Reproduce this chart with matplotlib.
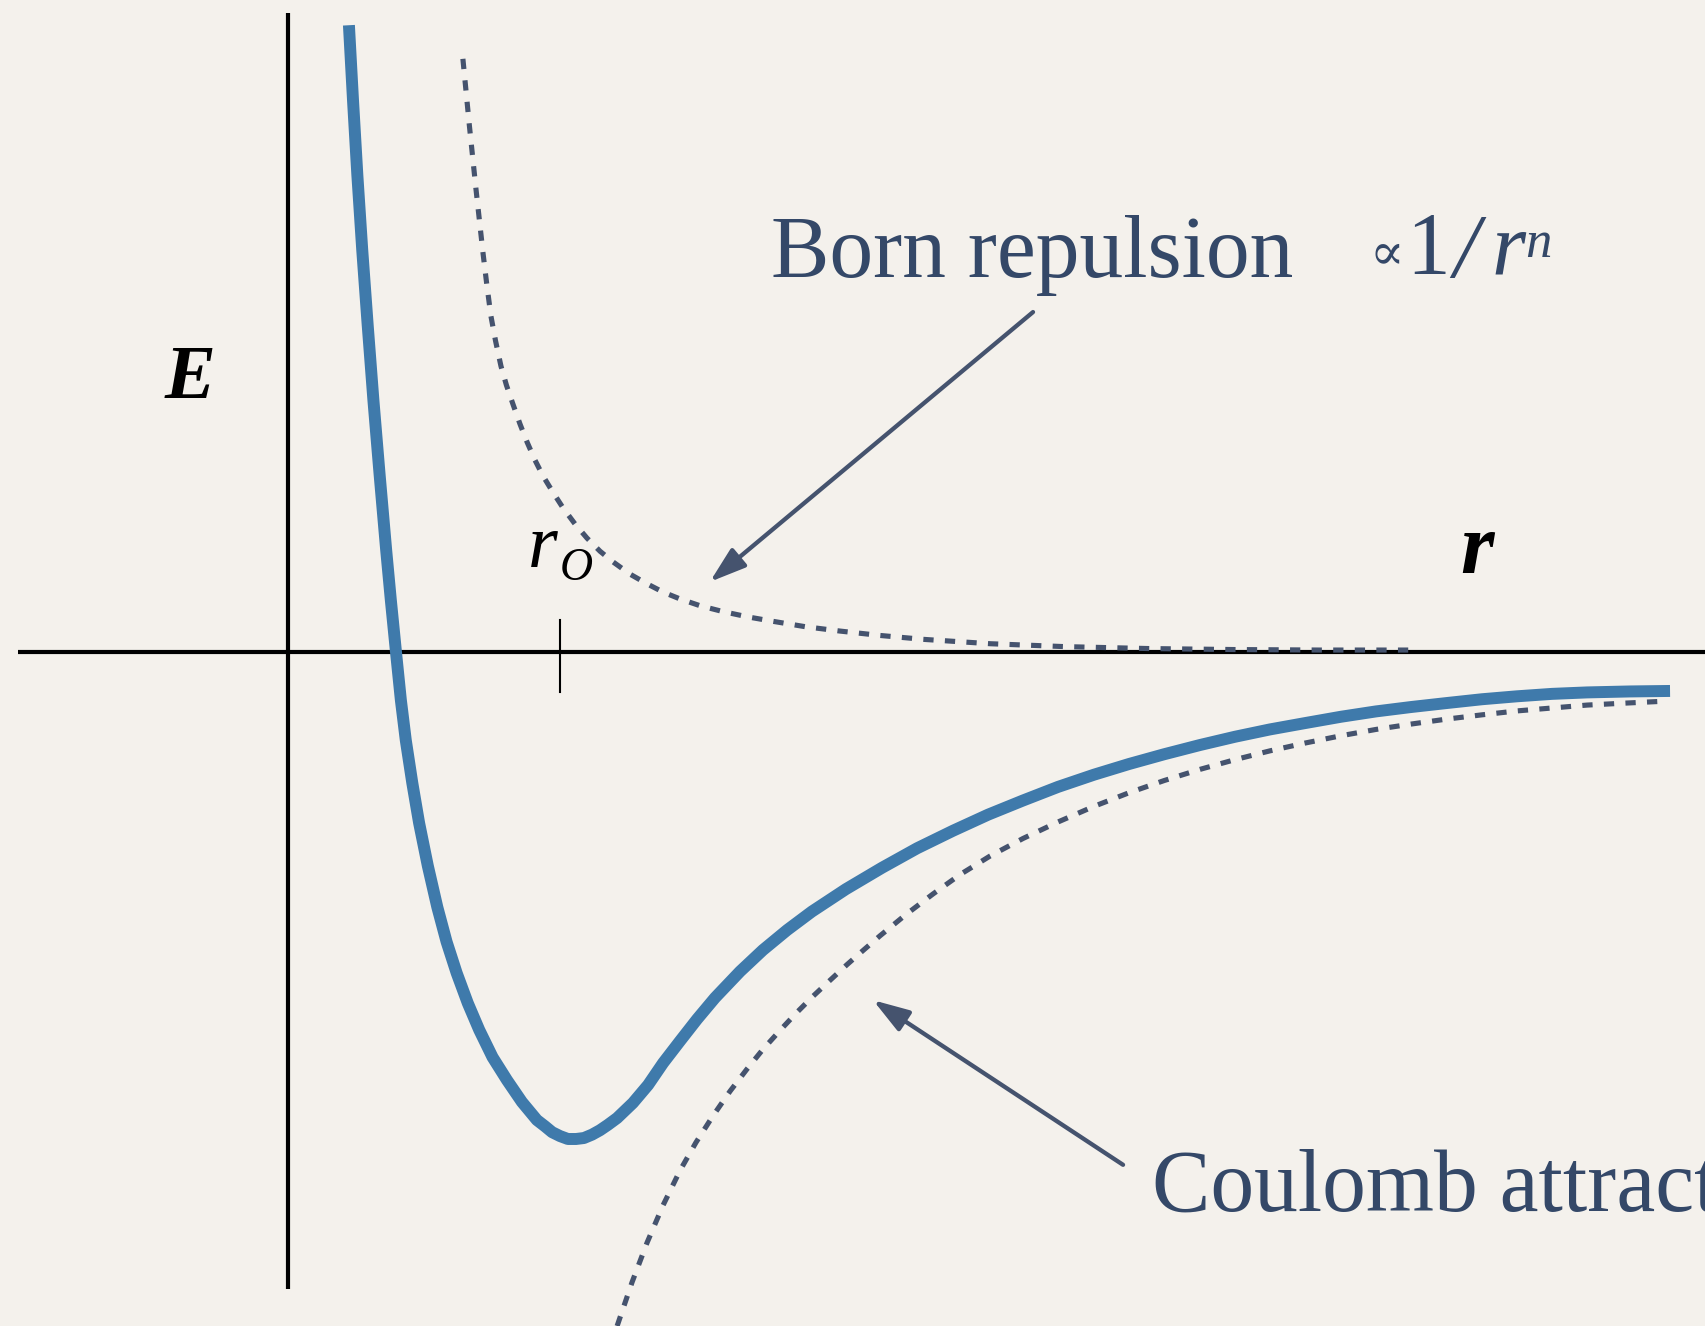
import matplotlib
matplotlib.use("Agg")
import matplotlib.pyplot as plt

# ---- data (r in units of r0, E in units of the well depth) ----
total_r = [0.224, 0.239, 0.255, 0.273, 0.293, 0.314, 0.337, 0.361, 0.378, 0.397,
           0.415, 0.433, 0.457, 0.482, 0.514, 0.549, 0.583, 0.620, 0.661, 0.703,
           0.752, 0.805, 0.860, 0.915, 0.945, 0.971, 1.000, 1.029, 1.059, 1.088,
           1.118, 1.147, 1.176, 1.210, 1.268, 1.324, 1.379, 1.441, 1.504, 1.570,
           1.662, 1.746, 1.835, 1.926, 2.051, 2.184, 2.313, 2.445, 2.574, 2.702,
           2.831, 2.963, 3.092, 3.221, 3.353, 3.482, 3.610, 3.739, 3.871, 4.000,
           4.129, 4.257, 4.390, 4.518, 4.647, 4.776, 4.934, 5.081]
total_E = [1.287, 1.133, 0.979, 0.825, 0.671, 0.517, 0.363, 0.209, 0.107, 0.000,
           -0.099, -0.181, -0.269, -0.351, -0.439, -0.524, -0.595, -0.659, -0.721, -0.776,
           -0.832, -0.879, -0.924, -0.961, -0.974, -0.986, -0.994, -1.000, -1.000, -0.998,
           -0.991, -0.982, -0.971, -0.957, -0.926, -0.889, -0.844, -0.799, -0.754, -0.710,
           -0.656, -0.612, -0.571, -0.533, -0.487, -0.443, -0.403, -0.367, -0.334, -0.305,
           -0.277, -0.252, -0.230, -0.210, -0.191, -0.174, -0.159, -0.146, -0.133, -0.122,
           -0.113, -0.105, -0.097, -0.091, -0.086, -0.083, -0.081, -0.080]

born_r = [0.643, 0.667, 0.691, 0.717, 0.731, 0.746, 0.763, 0.783, 0.803, 0.827,
          0.853, 0.879, 0.908, 0.938, 0.974, 1.011, 1.055, 1.099, 1.147, 1.195,
          1.257, 1.320, 1.379, 1.441, 1.515, 1.599, 1.691, 1.783, 1.901, 2.029,
          2.176, 2.335, 2.581, 2.857, 3.169, 3.482, 3.794, 4.129]
born_E = [1.218, 1.080, 0.951, 0.819, 0.754, 0.690, 0.639, 0.587, 0.548, 0.509,
          0.468, 0.431, 0.394, 0.361, 0.328, 0.296, 0.263, 0.234, 0.207, 0.185,
          0.160, 0.140, 0.123, 0.109, 0.095, 0.083, 0.072, 0.063, 0.052, 0.043,
          0.034, 0.026, 0.017, 0.011, 0.007, 0.005, 0.004, 0.004]

coul_r = [1.210, 1.265, 1.320, 1.379, 1.441, 1.500, 1.563, 1.625, 1.688, 1.746,
          1.809, 1.871, 1.930, 1.993, 2.055, 2.114, 2.176, 2.272, 2.371, 2.471,
          2.581, 2.702, 2.831, 2.963, 3.092, 3.221, 3.353, 3.482, 3.610, 3.739,
          3.871, 4.000, 4.129, 4.257, 4.390, 4.518, 4.647, 4.776, 4.915, 5.063]
coul_E = [-1.384, -1.294, -1.213, -1.136, -1.065, -1.007, -0.952, -0.902, -0.856, -0.816,
          -0.777, -0.740, -0.707, -0.674, -0.642, -0.613, -0.583, -0.539, -0.497, -0.457,
          -0.419, -0.383, -0.349, -0.317, -0.289, -0.264, -0.241, -0.221, -0.203, -0.187,
          -0.172, -0.159, -0.148, -0.138, -0.129, -0.121, -0.115, -0.109, -0.105, -0.101]

r0 = 1.0
label_born = "Born repulsion"
label_coul = "Coulomb attraction"
label_E = "E"
label_r = "r"

# ---- styles ----
BG = "#f4f1ec"
BLUE = "#3f7aab"
DASH = "#45536e"
TXT = "#344868"
SERIF = ["Liberation Serif", "DejaVu Serif"]

fig = plt.figure(figsize=(17.06, 13.26), dpi=100, facecolor=BG)
ax = fig.add_axes([0, 0, 1, 1])
ax.set_facecolor(BG)
ax.set_xlim(-1.0588, 5.2132)
ax.set_ylim(-1.3840, 1.3388)
ax.axis("off")

# axes lines
ax.plot([-0.993, 5.3], [0, 0], color="black", lw=3.0, solid_capstyle="butt", zorder=2)
ax.plot([0, 0], [-1.308, 1.312], color="black", lw=3.0, solid_capstyle="butt", zorder=2)
# r0 tick
ax.plot([r0, r0], [-0.082, 0.066], color="black", lw=1.5, zorder=2)

# curves
dash = (0, (2.0, 2.2))
ax.plot(born_r, born_E, color=DASH, lw=3.7, linestyle=dash, dash_capstyle="butt", zorder=3)
ax.plot(coul_r, coul_E, color=DASH, lw=3.7, linestyle=dash, dash_capstyle="butt", zorder=3)
ax.plot(total_r, total_E, color=BLUE, lw=8.6, solid_capstyle="butt",
        solid_joinstyle="round", zorder=4)

# arrows
aprops = dict(arrowstyle="-|>,head_length=0.55,head_width=0.18", color=DASH, lw=3.1,
              mutation_scale=40, shrinkA=0, shrinkB=0)
ax.annotate("", xy=(1.551, 0.144), xytext=(2.739, 0.698), arrowprops=aprops, zorder=5)
ax.annotate("", xy=(2.151, -0.715), xytext=(3.070, -1.053), arrowprops=aprops, zorder=5)

# texts
ax.text(1.775, 0.770, label_born, family=SERIF, fontsize=63, color=TXT,
        ha="left", va="baseline")
ax.text(3.175, -1.146, label_coul, family=SERIF, fontsize=63, color=TXT,
        ha="left", va="baseline", clip_on=True)
ax.text(3.975, 0.787, "\u221d", family=SERIF, fontsize=37, color=TXT,
        ha="left", va="baseline")
ax.text(4.112, 0.778, "1", family=SERIF, fontsize=63, color=TXT,
        ha="left", va="baseline")
ax.text(4.285, 0.770, "/", family=SERIF, fontsize=66, style="italic", color=TXT,
        ha="left", va="baseline")
ax.text(4.426, 0.778, "r", family=SERIF, fontsize=63, style="italic", color=TXT,
        ha="left", va="baseline")
ax.text(4.548, 0.812, "n", family=SERIF, fontsize=38, style="italic", color=TXT,
        ha="left", va="baseline")

ax.text(-0.452, 0.522, label_E, family=SERIF, fontsize=55, style="italic",
        weight="bold", color="black", ha="left", va="baseline")
ax.text(4.309, 0.162, label_r, family=SERIF, fontsize=62, style="italic",
        weight="bold", color="black", ha="left", va="baseline")
ax.text(0.882, 0.175, "r", family=SERIF, fontsize=55, style="italic",
        color="black", ha="left", va="baseline")
ax.text(1.0, 0.148, "O", family=SERIF, fontsize=33, style="italic",
        color="black", ha="left", va="baseline")

fig.savefig("out.png", dpi=100, facecolor=BG)
